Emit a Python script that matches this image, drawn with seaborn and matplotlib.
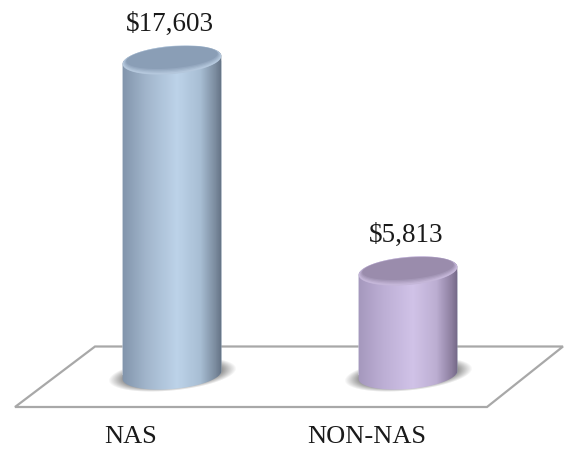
import numpy as np
import pandas as pd
import seaborn as sns
import matplotlib
matplotlib.use('Agg')
import matplotlib.pyplot as plt
from matplotlib.colors import LinearSegmentedColormap, to_rgb
from matplotlib.patches import PathPatch, Polygon
from matplotlib.path import Path
from matplotlib.transforms import IdentityTransform, ScaledTranslation

# data
categories = ['NAS', 'NON-NAS']
costs = [17603, 5813]

# look of each cylinder
side_colors = [
    ['#8093aa', '#a2b6cc', '#bdd3e9', '#a8bed4', '#7b8b9e', '#5f6e80'],
    ['#a497bc', '#bcaed4', '#d1c3e8', '#bcaed2', '#8d7fa0', '#6f6482'],
]
face_colors = ['#8a9eb6', '#9a8cac']
rim_colors = ['#b4c7dc', '#c4b6d8']

W, H = 564, 449
base_px = 375
px_per_usd = 315 / 17603

sns.set_theme(style='white')
plt.rcParams['font.family'] = ['Liberation Serif', 'DejaVu Serif']

fig = plt.figure(figsize=(W / 100, H / 100), dpi=100)
ax = fig.add_axes([0, (H - base_px) / H, 1, base_px / H])
ax.patch.set_alpha(0)

df = pd.DataFrame({'group': categories, 'cost': costs})
sns.barplot(data=df, x='group', y='cost', width=0.42, color='#a2b6cc', saturation=1, ax=ax, zorder=2)
bars = list(ax.containers[0])

ax.set_xlim(-172 / 236, (W - 172) / 236)
ax.set_ylim(0, base_px / px_per_usd)
ax.set_xlabel('')
ax.set_ylabel('')
ax.set_yticks([])
sns.despine(ax=ax, left=True, bottom=True)


def ellipse_pts(cx, cy, a, b, t0=0, t1=360, tilt=5):
    # points of a tilted ellipse, in display pixels
    t = np.radians(np.linspace(t0, t1, 90))
    r = np.radians(tilt)
    x = a * np.cos(t)
    y = b * np.sin(t)
    return np.column_stack([cx + x * np.cos(r) - y * np.sin(r), cy + x * np.sin(r) + y * np.cos(r)])


def flat_patch(pts, color, z, alpha=1):
    p = PathPatch(Path(np.vstack([pts, pts[:1]])), facecolor=color, edgecolor='none', alpha=alpha,
                  transform=IdentityTransform(), zorder=z, clip_on=False)
    ax.add_patch(p)
    return p


# floor
floor = [(15, 407), (487, 407), (563, 346.5), (95, 346.5)]
ax.add_patch(Polygon([(x, H - y) for x, y in floor], closed=True, facecolor='white', edgecolor='#a8a8a8',
                     linewidth=1.6, transform=IdentityTransform(), zorder=0.5, clip_on=False))

fig.canvas.draw()
for i, bar in enumerate(bars):
    box = bar.get_window_extent()
    cx = (box.x0 + box.x1) / 2
    a = (box.x1 - box.x0) / 2
    b = 14
    top_y, bot_y = box.y1, box.y0

    # shadow on the floor
    gx, gy = np.meshgrid(np.arange(cx - 80, cx + 80), np.arange(bot_y - 40, bot_y + 40))
    r = np.radians(5.7)
    u = (gx - cx) * np.cos(r) + (gy - bot_y) * np.sin(r)
    v = -(gx - cx) * np.sin(r) + (gy - bot_y) * np.cos(r)
    dist = np.sqrt((u / 63) ** 2 + (v / 16) ** 2)
    rgba = np.zeros(gx.shape + (4,))
    rgba[..., :3] = 0.38
    rgba[..., 3] = np.clip((1.02 - dist) / 0.3, 0, 1) * 0.85
    shadow = ax.imshow(rgba, extent=(cx - 80, cx + 80, bot_y - 40, bot_y + 40), origin='lower',
                       transform=IdentityTransform(), aspect='auto', zorder=1, interpolation='bilinear')
    shadow.set_clip_on(False)

    # cylinder side, the bar's rectangle bent to the cylinder outline
    lower = ellipse_pts(cx, bot_y, a, b, 180, 360)
    upper = ellipse_pts(cx, top_y, a, b, 0, 180)
    outline = np.vstack([lower, upper, lower[:1]])
    clip = Path(outline)
    bar.set_clip_path(clip, IdentityTransform())
    cmap = LinearSegmentedColormap.from_list('side', list(zip([0, 0.25, 0.55, 0.78, 0.93, 1], side_colors[i])))
    side = ax.imshow(np.linspace(0, 1, 200)[None, :], cmap=cmap, vmin=0, vmax=1,
                     extent=(cx - a - 1, cx + a + 1, bot_y - b - 4, top_y + b), transform=IdentityTransform(),
                     aspect='auto', zorder=3)
    side.set_clip_box(fig.bbox)
    side.set_clip_path(clip, IdentityTransform())

    # top of the cylinder, rim fading in to the flat face
    rim = np.array(to_rgb(rim_colors[i]))
    face = np.array(to_rgb(face_colors[i]))
    flat_patch(ellipse_pts(cx, top_y, a, b), rim_colors[i], 4)
    for k, f in enumerate(np.linspace(0, 1, 5)):
        flat_patch(ellipse_pts(cx, top_y + 0.6 * k, a - 0.5 - 0.8 * k, b - 0.5 - 0.7 * k),
                   tuple(rim * (1 - f) + face * f), 4.1 + k * 0.1)

# value labels
for i, c in enumerate(costs):
    ax.annotate(f'${c:,}', (i, c), xytext=(-2 * 0.72, 35.5 * 0.72), textcoords='offset points',
                ha='center', va='center', fontsize=19.5, color='#1a1a1a', zorder=6, annotation_clip=False)

# tick labels sit left of the cylinders, on the floor's perspective
ax.set_xticks(range(len(categories)))
ax.set_xticklabels(categories)
ax.tick_params(axis='x', length=0, pad=37, labelsize=19, labelcolor='#1a1a1a')
shift = ScaledTranslation(-41 / 100, 0, fig.dpi_scale_trans)
for lab in ax.get_xticklabels():
    lab.set_transform(lab.get_transform() + shift)

fig.savefig('out.png', dpi=100, facecolor='white')
